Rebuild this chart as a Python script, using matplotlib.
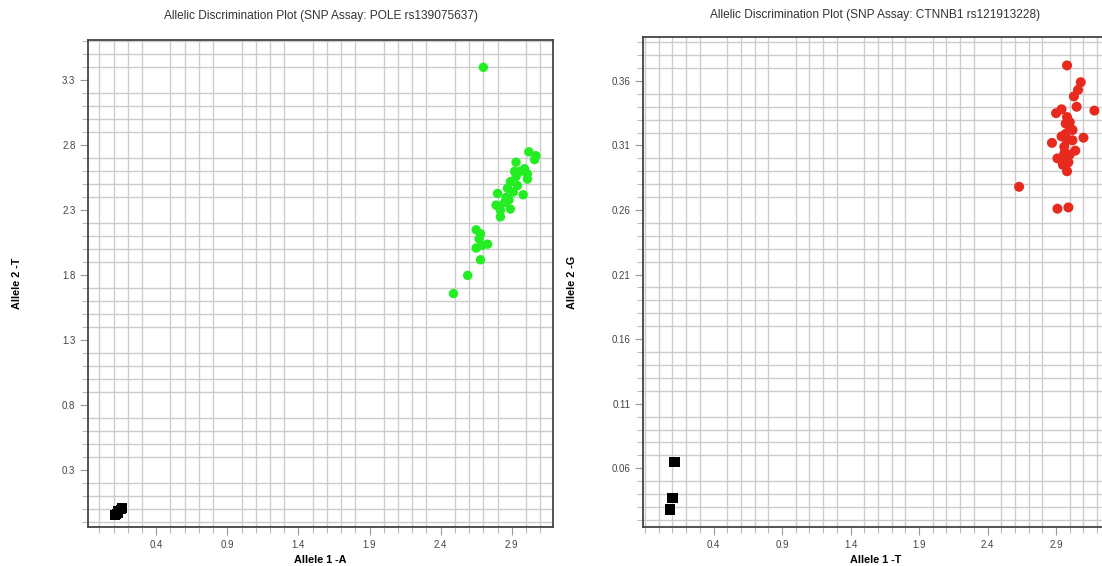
"""Allelic discrimination plots for two SNP assays (POLE and CTNNB1)."""

import matplotlib
matplotlib.use('Agg')
import matplotlib.pyplot as plt
from matplotlib.ticker import FixedLocator, MultipleLocator

plt.rcParams['font.family'] = ['Liberation Sans', 'DejaVu Sans']

# POLE rs139075637 -- allele 1 (A) vs allele 2 (T)
pole_green_x = [2.70, 2.49, 2.59, 2.68, 2.65, 2.73, 2.69, 2.65, 2.68, 2.67,
                2.82, 2.81, 2.89, 2.80, 2.98, 2.86, 2.87, 2.89, 2.93, 2.88,
                2.85, 2.96, 3.01, 2.99, 2.93, 3.02, 3.07, 3.06, 3.01, 2.94,
                2.91, 2.92, 2.82, 2.79]
pole_green_y = [3.40, 1.66, 1.80, 1.92, 2.01, 2.04, 2.03, 2.15, 2.12, 2.08,
                2.25, 2.33, 2.31, 2.43, 2.42, 2.40, 2.47, 2.52, 2.56, 2.38,
                2.36, 2.60, 2.58, 2.62, 2.67, 2.75, 2.72, 2.69, 2.54, 2.49,
                2.44, 2.60, 2.30, 2.34]
pole_black_x = [0.11, 0.13, 0.15, 0.16, 0.13, 0.12]
pole_black_y = [-0.04, -0.03, 0.00, 0.01, -0.01, -0.035]

# CTNNB1 rs121913228 -- allele 1 (T) vs allele 2 (G)
ctnnb1_red_x = [2.98, 2.63, 2.91, 2.99, 3.18, 3.08, 3.06, 3.03, 3.05, 2.94,
                2.90, 2.99, 3.02, 3.10, 2.87, 2.97, 2.98, 3.04, 2.91, 2.96,
                2.99, 2.98, 2.96, 3.00, 2.97, 2.94, 3.02, 2.95, 2.94, 3.00,
                2.98]
ctnnb1_red_y = [0.372, 0.278, 0.261, 0.262, 0.337, 0.359, 0.353, 0.348, 0.340, 0.338,
                0.335, 0.326, 0.322, 0.316, 0.312, 0.319, 0.314, 0.306, 0.300, 0.304,
                0.297, 0.290, 0.309, 0.328, 0.327, 0.317, 0.314, 0.295, 0.300, 0.303,
                0.332]
ctnnb1_black_x = [0.115, 0.100, 0.084]
ctnnb1_black_y = [0.065, 0.037, 0.028]

pole_xticks = [0.4, 0.9, 1.4, 1.9, 2.4, 2.9]
pole_yticks = [0.3, 0.8, 1.3, 1.8, 2.3, 2.8, 3.3]
ctnnb1_xticks = [0.4, 0.9, 1.4, 1.9, 2.4, 2.9]
ctnnb1_yticks = [0.06, 0.11, 0.16, 0.21, 0.26, 0.31, 0.36]

W, H = 1102, 566


def style_axes(ax, xticks, yticks, xstep, ystep, fmt):
    ax.xaxis.set_major_locator(FixedLocator(xticks))
    ax.yaxis.set_major_locator(FixedLocator(yticks))
    ax.xaxis.set_minor_locator(MultipleLocator(xstep))
    ax.yaxis.set_minor_locator(MultipleLocator(ystep))
    ax.set_xticklabels([fmt[0].format(t) for t in xticks])
    ax.set_yticklabels([fmt[1].format(t) for t in yticks])
    ax.grid(which='minor', color='#cccccc', linewidth=1.0)
    ax.grid(which='major', visible=False)
    ax.set_axisbelow(True)
    ax.tick_params(which='major', length=6, width=0.8, color='#999999',
                   labelsize=7, labelcolor='#444444', pad=3)
    ax.tick_params(which='minor', length=4, width=0.8, color='#bbbbbb')
    for s in ax.spines.values():
        s.set_color('#444444')
        s.set_linewidth(1.3)


fig = plt.figure(figsize=(W / 100, H / 100), dpi=100)

# left panel
ax1 = fig.add_axes([88 / W, 39 / H, 465 / W, 487 / H])
ax1.scatter(pole_green_x, pole_green_y, s=46, color='#22ee22', edgecolors='none', zorder=3)
ax1.scatter(pole_black_x, pole_black_y, s=50, marker='s', color='black', edgecolors='none', zorder=3)
ax1.set_xlim(-0.08, 3.19)
ax1.set_ylim(-0.135, 3.61)
style_axes(ax1, pole_xticks, pole_yticks, 0.1, 0.1, ('{:.1f}', '{:.1f}'))
ax1.set_title('Allelic Discrimination Plot (SNP Assay: POLE rs139075637)',
              fontsize=8.6, color='#333333', pad=15)
ax1.set_xlabel('Allele 1 -A', fontsize=7.8, fontweight='bold', labelpad=4)
ax1.set_ylabel('Allele 2 -T', fontsize=7.8, fontweight='bold', labelpad=29)

# right panel (cut off by the page edge)
ax2 = fig.add_axes([643 / W, 39 / H, 465 / W, 490 / H])
ax2.scatter(ctnnb1_red_x, ctnnb1_red_y, s=52, color='#e8291e', edgecolors='none', zorder=3)
ax2.scatter(ctnnb1_black_x, ctnnb1_black_y, s=55, marker='s', color='black', edgecolors='none', zorder=3)
ax2.set_xlim(-0.115, 3.279)
ax2.set_ylim(0.0145, 0.394)
style_axes(ax2, ctnnb1_xticks, ctnnb1_yticks, 0.1, 0.01, ('{:.1f}', '{:.2f}'))
ax2.set_title('Allelic Discrimination Plot (SNP Assay: CTNNB1 rs121913228)',
              fontsize=8.6, color='#333333', pad=14)
ax2.set_xlabel('Allele 1 -T', fontsize=7.8, fontweight='bold', labelpad=4)
ax2.set_ylabel('Allele 2 -G', fontsize=7.8, fontweight='bold', labelpad=25)

fig.savefig('out.png', dpi=100, facecolor='white')
